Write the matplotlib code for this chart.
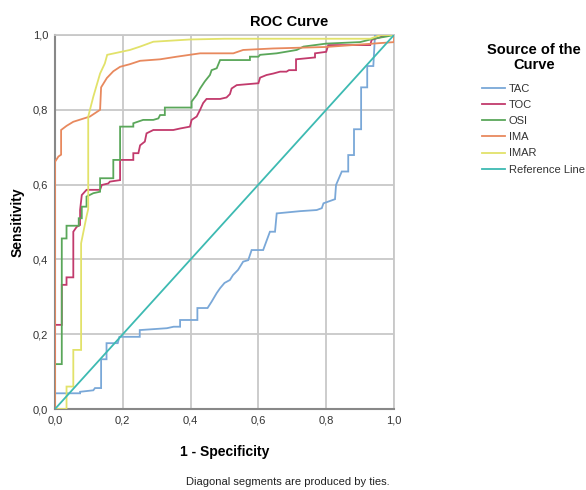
import matplotlib
matplotlib.use("Agg")
import matplotlib.pyplot as plt
from matplotlib.ticker import FuncFormatter

plt.rcParams['font.family'] = ['Liberation Sans', 'DejaVu Sans']

# ---- data (1 - specificity, sensitivity) ----
tac_x = [0, 0, 0.074, 0.074, 0.113, 0.118, 0.136, 0.136, 0.152, 0.152, 0.185, 0.19, 0.25, 0.25, 0.33, 0.35,
         0.369, 0.369, 0.42, 0.42, 0.45, 0.462, 0.477, 0.487, 0.50, 0.516, 0.525, 0.54, 0.555, 0.57, 0.58,
         0.614, 0.634, 0.649, 0.654, 0.723, 0.772, 0.787, 0.792, 0.826, 0.829, 0.846, 0.865, 0.865, 0.882,
         0.882, 0.903, 0.903, 0.921, 0.921, 0.939, 0.944, 1.0]
tac_y = [0, 0.042, 0.042, 0.046, 0.05, 0.056, 0.056, 0.133, 0.133, 0.176, 0.176, 0.193, 0.193, 0.211, 0.216, 0.22,
         0.22, 0.238, 0.238, 0.27, 0.27, 0.287, 0.31, 0.323, 0.337, 0.345, 0.358, 0.372, 0.394, 0.398, 0.425,
         0.425, 0.474, 0.474, 0.523, 0.529, 0.532, 0.537, 0.55, 0.561, 0.599, 0.635, 0.635, 0.679, 0.679,
         0.748, 0.748, 0.86, 0.86, 0.917, 0.917, 1.0, 1.0]

toc_x = [0, 0, 0.02, 0.02, 0.034, 0.034, 0.054, 0.054, 0.064, 0.074, 0.074, 0.079, 0.093, 0.133, 0.138, 0.157,
         0.162, 0.192, 0.192, 0.231, 0.231, 0.246, 0.251, 0.265, 0.27, 0.29, 0.349, 0.369, 0.398, 0.403, 0.418,
         0.428, 0.437, 0.447, 0.487, 0.506, 0.516, 0.521, 0.536, 0.6, 0.605, 0.624, 0.644, 0.664, 0.683, 0.69,
         0.711, 0.711, 0.767, 0.767, 0.80, 0.806, 0.93, 0.934, 0.963, 0.988, 1.0]
toc_y = [0, 0.225, 0.225, 0.332, 0.332, 0.352, 0.352, 0.474, 0.487, 0.492, 0.532, 0.572, 0.586, 0.586, 0.599, 0.603,
         0.608, 0.612, 0.666, 0.666, 0.684, 0.684, 0.705, 0.715, 0.737, 0.746, 0.746, 0.75, 0.755, 0.773, 0.782,
         0.80, 0.818, 0.829, 0.829, 0.833, 0.842, 0.857, 0.866, 0.871, 0.886, 0.893, 0.897, 0.902, 0.902, 0.906,
         0.906, 0.935, 0.94, 0.951, 0.955, 0.973, 0.973, 0.987, 0.995, 1.0, 1.0]

osi_x = [0, 0, 0.02, 0.02, 0.034, 0.034, 0.07, 0.07, 0.079, 0.079, 0.093, 0.093, 0.113, 0.133, 0.133, 0.172,
         0.172, 0.192, 0.192, 0.231, 0.231, 0.26, 0.29, 0.305, 0.31, 0.324, 0.324, 0.403, 0.403, 0.418, 0.428,
         0.442, 0.457, 0.462, 0.477, 0.487, 0.575, 0.575, 0.6, 0.605, 0.654, 0.713, 0.733, 0.80, 0.90, 0.939,
         0.978, 1.0]
osi_y = [0, 0.12, 0.12, 0.456, 0.456, 0.49, 0.49, 0.51, 0.51, 0.541, 0.541, 0.568, 0.577, 0.581, 0.617, 0.617,
         0.666, 0.666, 0.755, 0.755, 0.764, 0.773, 0.773, 0.777, 0.786, 0.786, 0.806, 0.806, 0.822, 0.84, 0.857,
         0.876, 0.893, 0.906, 0.911, 0.933, 0.933, 0.942, 0.942, 0.947, 0.951, 0.96, 0.969, 0.977, 0.981, 0.99,
         0.996, 1.0]

ima_x = [0, 0, 0.01, 0.018, 0.018, 0.034, 0.054, 0.103, 0.133, 0.136, 0.153, 0.172, 0.192, 0.221, 0.251, 0.31,
         0.359, 0.428, 0.526, 0.555, 0.643, 0.80, 0.938, 1.0, 1.0]
ima_y = [0, 0.661, 0.675, 0.68, 0.746, 0.757, 0.768, 0.782, 0.80, 0.86, 0.885, 0.903, 0.915, 0.922, 0.931, 0.935,
         0.942, 0.951, 0.951, 0.96, 0.964, 0.968, 0.977, 0.981, 1.0]

imar_x = [0, 0.034, 0.034, 0.054, 0.054, 0.077, 0.077, 0.083, 0.093, 0.098, 0.098, 0.113, 0.133, 0.147, 0.154,
          0.221, 0.251, 0.29, 0.398, 0.5, 0.93, 0.96, 1.0]
imar_y = [0, 0, 0.06, 0.06, 0.158, 0.158, 0.443, 0.47, 0.515, 0.535, 0.782, 0.835, 0.897, 0.924, 0.947,
          0.96, 0.969, 0.982, 0.988, 0.99, 0.99, 1.0, 1.0]

ref_x = [0, 1]
ref_y = [0, 1]

series_names = ['TAC', 'TOC', 'OSI', 'IMA', 'IMAR', 'Reference Line']
series_colors = ['#7aa8d8', '#c23a6c', '#5aa75a', '#e8895e', '#e2e26a', '#3dbab2']
tick_values = [0.0, 0.2, 0.4, 0.6, 0.8, 1.0]

# ---- figure ----
W, H = 586, 490
fig = plt.figure(figsize=(W / 100, H / 100), dpi=100)
ax = fig.add_axes([55 / W, 1 - 409 / H, (394 - 55) / W, (409 - 35) / H])

data = [(tac_x, tac_y), (toc_x, toc_y), (osi_x, osi_y), (ima_x, ima_y), (imar_x, imar_y), (ref_x, ref_y)]
for (xs, ys), name, col in zip(data, series_names, series_colors):
    ax.plot(xs, ys, color=col, lw=1.3, label=name, solid_joinstyle='miter', zorder=3)

ax.set_xlim(0, 1)
ax.set_ylim(0, 1)
ax.set_xticks(tick_values)
ax.set_yticks(tick_values)
fmt = FuncFormatter(lambda v, p: f"{v:.1f}".replace('.', ','))
ax.xaxis.set_major_formatter(fmt)
ax.yaxis.set_major_formatter(fmt)
ax.tick_params(length=0, labelsize=8, labelcolor='#333333', pad=5)
ax.grid(True, color='#c8c8c8', lw=1.3, zorder=0)
ax.set_axisbelow(True)
for s in ['top', 'right']:
    ax.spines[s].set_color('#c8c8c8')
    ax.spines[s].set_linewidth(1.3)
for s in ['left', 'bottom']:
    ax.spines[s].set_color('#888888')
    ax.spines[s].set_linewidth(1.5)

fig.text(289 / W, 1 - 26 / H, 'ROC Curve', ha='center', va='baseline', fontsize=10.5, fontweight='bold')
fig.text(224.5 / W, 1 - 452 / H, '1 - Specificity', ha='center', va='center', fontsize=10, fontweight='bold')
fig.text(18 / W, 1 - 222 / H, 'Sensitivity', ha='center', va='center', rotation=90, fontsize=10, fontweight='bold')
fig.text(288 / W, 1 - 482 / H, 'Diagonal segments are produced by ties.', ha='center', va='center', fontsize=8,
         color='#222222')

# legend title (centered, two lines)
fig.text(534 / W, 1 - 57.5 / H, 'Source of the\nCurve', ha='center', va='center', multialignment='center',
         fontsize=10.5, fontweight='bold', linespacing=1.05)

leg = ax.legend(loc='upper left', bbox_to_anchor=(482 / W, 1 - 84 / H), bbox_transform=fig.transFigure,
                frameon=False, fontsize=8, handlelength=2.1, handletextpad=0.3,
                labelspacing=0.55, borderpad=0, borderaxespad=0)
for t in leg.get_texts():
    t.set_color('#333333')

fig.savefig('out.png', dpi=100)
